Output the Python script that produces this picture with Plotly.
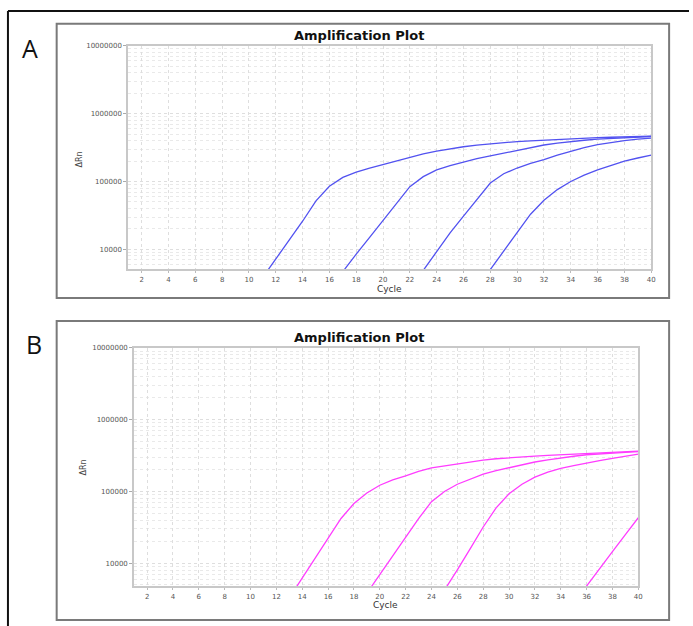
import plotly.graph_objects as go

# ---------------- data ----------------
cycles_a1 = list(range(10, 41))
dRn_a1 = [2000, 3800, 7000, 13500, 26000, 52000, 85000, 115000, 137000, 157000,
          178000, 200000, 228000, 255000, 280000, 303000, 325000, 343000, 360000,
          375000, 388000, 398000, 408000, 418000, 427000, 435000, 442000, 449000,
          455000, 460000, 465000]

cycles_a2 = list(range(16, 41))
dRn_a2 = [2600, 4800, 8500, 15000, 27000, 48000, 84000, 118000, 148000, 172000,
          195000, 217000, 238000, 262000, 288000, 315000, 345000, 368000, 388000,
          405000, 420000, 432000, 443000, 452000, 460000]

cycles_a3 = list(range(22, 41))
dRn_a3 = [2600, 4900, 9300, 17500, 31000, 55000, 95000, 130000, 158000, 185000,
          210000, 245000, 280000, 315000, 350000, 378000, 400000, 420000, 435000]

cycles_a4 = list(range(27, 41))
dRn_a4 = [2700, 5100, 9600, 18000, 33000, 53000, 76000, 100000, 124000, 148000,
          173000, 200000, 222000, 245000]

cycles_b1 = list(range(13, 41))
dRn_b1 = [3300, 6200, 11700, 22000, 42000, 68000, 95000, 122000, 145000, 165000,
          190000, 213000, 228000, 242000, 255000, 273000, 285000, 295000, 302000,
          310000, 318000, 325000, 333000, 340000, 345000, 350000, 358000, 365000]

cycles_b2 = list(range(18, 41))
dRn_b2 = [2100, 3800, 6900, 12600, 23000, 42000, 72000, 100000, 126000, 148000,
          174000, 195000, 214000, 234000, 257000, 275000, 295000, 309000, 324000,
          335000, 343000, 351000, 359000]

cycles_b3 = list(range(24, 41))
dRn_b3 = [2200, 4200, 8100, 16000, 32000, 59000, 93000, 126000, 158000, 186000,
          209000, 229000, 251000, 269000, 288000, 309000, 331000]

cycles_b4 = list(range(34, 41))
dRn_b4 = [1600, 2800, 4800, 8300, 14500, 25000, 43000]

x_ticks = list(range(2, 41, 2))
y_ticks = [10000, 100000, 1000000, 10000000]
y_ticktext = ["10000", "100000", "1000000", "10000000"]
y_minor = [m * 10 ** e for e in range(3, 7) for m in range(2, 10)]

title_text = "Amplification Plot"
x_title = "Cycle"
y_title = "ΔRn"

blue = "#5252f0"
magenta = "#ff3cff"

W, H = 693, 626


def px(v):
    return v / W


def py(v):
    return 1 - v / H


fig = go.Figure()

for cx, cy in [(cycles_a1, dRn_a1), (cycles_a2, dRn_a2), (cycles_a3, dRn_a3), (cycles_a4, dRn_a4)]:
    fig.add_trace(go.Scatter(x=cx, y=cy, mode="lines", line=dict(color=blue, width=1.3),
                             xaxis="x", yaxis="y", showlegend=False))
for cx, cy in [(cycles_b1, dRn_b1), (cycles_b2, dRn_b2), (cycles_b3, dRn_b3), (cycles_b4, dRn_b4)]:
    fig.add_trace(go.Scatter(x=cx, y=cy, mode="lines", line=dict(color=magenta, width=1.3),
                             xaxis="x2", yaxis="y2", showlegend=False))

tickfont = dict(family="DejaVu Sans", size=7, color="#555555")
gridc = "#dedede"


def xaxis(dom, anchor):
    return dict(domain=dom, anchor=anchor, range=[1, 40], tickvals=x_ticks,
                ticks="outside", ticklen=2, tickcolor="#bbbbbb", tickfont=tickfont,
                showgrid=True, gridcolor=gridc, griddash="dot", gridwidth=1,
                showline=True, linecolor="#c8c8c8", linewidth=2, mirror=True,
                zeroline=False, fixedrange=True)


def yaxis(dom, anchor, rng):
    return dict(domain=dom, anchor=anchor, type="log", range=rng, tickvals=y_ticks,
                ticktext=y_ticktext, ticks="outside", ticklen=3, tickcolor="#aaaaaa",
                tickfont=tickfont, showgrid=True, gridcolor=gridc, griddash="dot",
                minor=dict(tickvals=y_minor, showgrid=True, gridcolor="#e9e9e9",
                           griddash="dot", ticks=""),
                showline=True, linecolor="#c8c8c8", linewidth=2, mirror=True,
                zeroline=False, fixedrange=True)


fig.update_layout(
    width=W, height=H, margin=dict(l=0, r=0, t=0, b=0),
    paper_bgcolor="white", plot_bgcolor="white",
    xaxis=xaxis([px(129), px(655)], "y"),
    yaxis=yaxis([py(267), py(42)], "x", [3.707, 7]),
    xaxis2=xaxis([px(135), px(642)], "y2"),
    yaxis2=yaxis([py(586), py(346)], "x2", [3.68, 7]),
)

shapes = [
    # outer black border (left and top)
    dict(type="line", xref="paper", yref="paper", x0=px(8), x1=px(8), y0=0, y1=py(7),
         line=dict(color="#111111", width=2)),
    dict(type="line", xref="paper", yref="paper", x0=px(8), x1=1, y0=py(7), y1=py(7),
         line=dict(color="#111111", width=2)),
    # panel frames
    dict(type="rect", xref="paper", yref="paper", x0=px(57), x1=px(673), y0=py(296), y1=py(20),
         line=dict(color="#7a7a7a", width=2)),
    dict(type="rect", xref="paper", yref="paper", x0=px(57), x1=px(673), y0=py(620), y1=py(319),
         line=dict(color="#7a7a7a", width=2)),
]
fig.update_layout(shapes=shapes)

ann = []
for (tx, ty, lx, ly, cx_, cy_, lab, labx, laby) in [
    (361, 32, 80, 157, 392, 287, "A", 30, 44),
    (361, 336, 83, 467, 388, 605, "B", 34, 342),
]:
    ann.append(dict(text="<b>" + title_text + "</b>", x=px(tx), y=py(ty), xref="paper", yref="paper",
                    showarrow=False, xanchor="center", yanchor="middle",
                    font=dict(family="DejaVu Sans", size=13, color="#111111")))
    ann.append(dict(text=y_title, x=px(lx), y=py(ly), xref="paper", yref="paper",
                    showarrow=False, xanchor="center", yanchor="middle", textangle=-90,
                    font=dict(family="DejaVu Sans", size=8, color="#444444")))
    ann.append(dict(text=x_title, x=px(cx_), y=py(cy_), xref="paper", yref="paper",
                    showarrow=False, xanchor="center", yanchor="middle",
                    font=dict(family="DejaVu Sans", size=9, color="#333333")))
    ann.append(dict(text=lab, x=px(labx), y=py(laby), xref="paper", yref="paper",
                    showarrow=False, xanchor="center", yanchor="middle",
                    font=dict(family="Open Sans", size=25, color="#111111")))
fig.update_layout(annotations=ann)

fig.write_html("out.html")
